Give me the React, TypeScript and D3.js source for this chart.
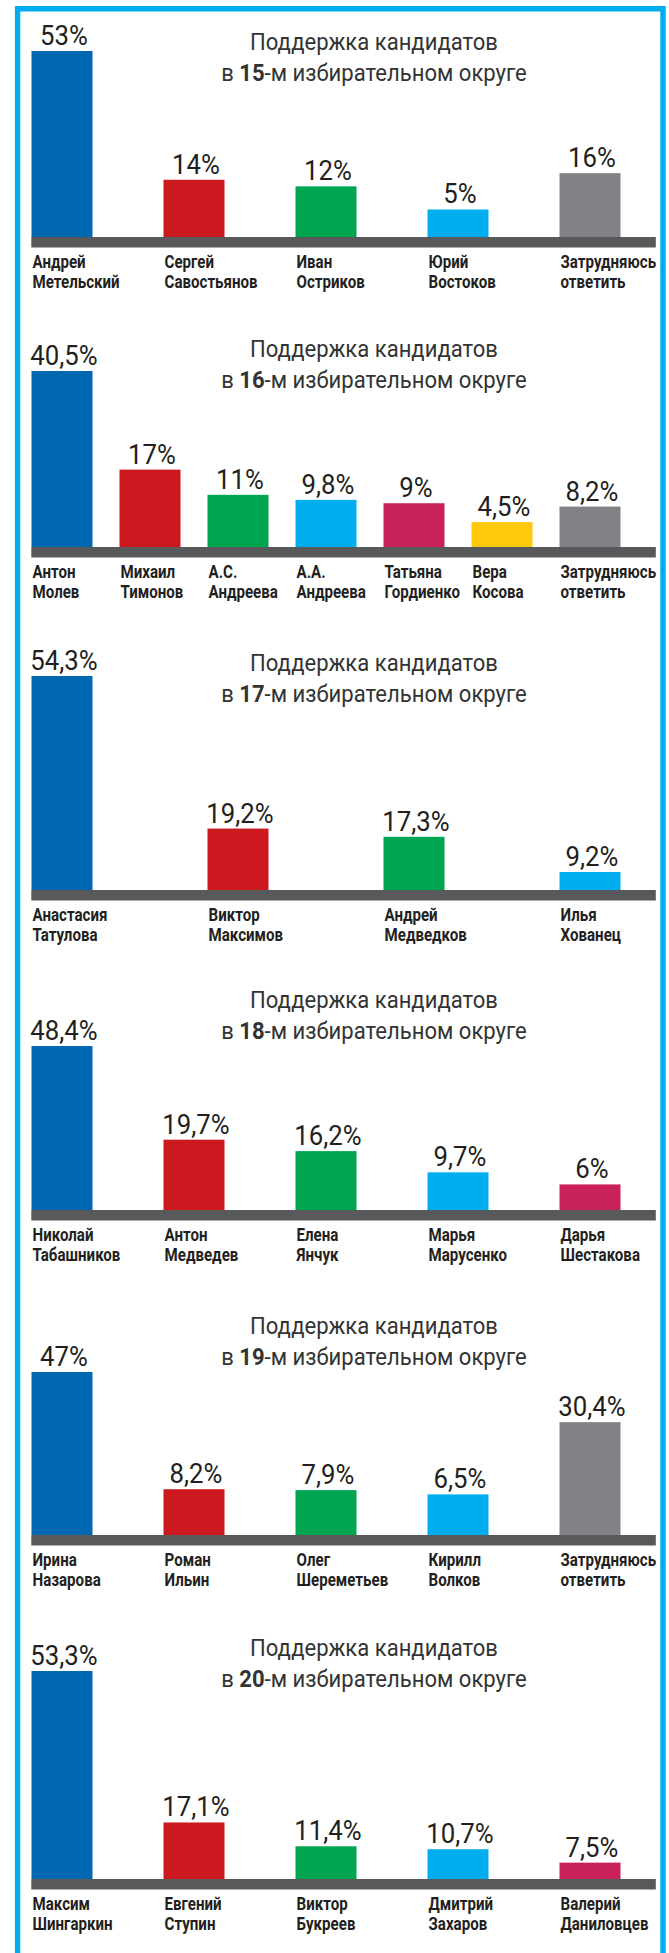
import React from "react";
import * as d3 from "d3";

// district numbers
const districts = ["15", "16", "17", "18", "19", "20"];

// candidates and results, one pair of arrays per district
const names15 = [["Андрей", "Метельский"], ["Сергей", "Савостьянов"], ["Иван", "Остриков"], ["Юрий", "Востоков"], ["Затрудняюсь", "ответить"]];
const values15 = [53, 14, 12, 5, 16];

const names16 = [["Антон", "Молев"], ["Михаил", "Тимонов"], ["А.С.", "Андреева"], ["А.А.", "Андреева"], ["Татьяна", "Гордиенко"], ["Вера", "Косова"], ["Затрудняюсь", "ответить"]];
const values16 = [40.5, 17, 11, 9.8, 9, 4.5, 8.2];

const names17 = [["Анастасия", "Татулова"], ["Виктор", "Максимов"], ["Андрей", "Медведков"], ["Илья", "Хованец"]];
const values17 = [54.3, 19.2, 17.3, 9.2];

const names18 = [["Николай", "Табашников"], ["Антон", "Медведев"], ["Елена", "Янчук"], ["Марья", "Марусенко"], ["Дарья", "Шестакова"]];
const values18 = [48.4, 19.7, 16.2, 9.7, 6];

const names19 = [["Ирина", "Назарова"], ["Роман", "Ильин"], ["Олег", "Шереметьев"], ["Кирилл", "Волков"], ["Затрудняюсь", "ответить"]];
const values19 = [47, 8.2, 7.9, 6.5, 30.4];

const names20 = [["Максим", "Шингаркин"], ["Евгений", "Ступин"], ["Виктор", "Букреев"], ["Дмитрий", "Захаров"], ["Валерий", "Даниловцев"]];
const values20 = [53.3, 17.1, 11.4, 10.7, 7.5];

const BLUE = "#0067b1", RED = "#cc1920", GREEN = "#00a551", CYAN = "#00aeef";
const GRAY = "#818285", MAGENTA = "#c9215c", YELLOW = "#ffc90b";

// layout of each panel: title baseline, axis top, bar heights at 0 and at max
const panels = [
  { names: names15, values: values15, colors: [BLUE, RED, GREEN, CYAN, GRAY], titleY: 50, axisY: 237, h0: 11, hMax: 186 },
  { names: names16, values: values16, colors: [BLUE, RED, GREEN, CYAN, MAGENTA, YELLOW, GRAY], titleY: 357, axisY: 547, h0: 6, hMax: 176 },
  { names: names17, values: values17, colors: [BLUE, RED, GREEN, CYAN], titleY: 671, axisY: 890, h0: -22, hMax: 214 },
  { names: names18, values: values18, colors: [BLUE, RED, GREEN, CYAN, MAGENTA], titleY: 1008, axisY: 1210, h0: 6, hMax: 164 },
  { names: names19, values: values19, colors: [BLUE, RED, GREEN, CYAN, GRAY], titleY: 1334, axisY: 1535, h0: 21, hMax: 163 },
  { names: names20, values: values20, colors: [BLUE, RED, GREEN, CYAN, MAGENTA], titleY: 1656, axisY: 1879, h0: -15, hMax: 208 },
];

const width = 669;
const height = 1953;
const barW = 61;
const font = "Roboto, 'Liberation Sans', sans-serif";

const fmt = (v: number) => String(v).replace(".", ",") + "%";

function Panel({ p, district }: { p: any; district: string }) {
  const x = d3.scalePoint<number>().domain(d3.range(p.values.length)).range([62, 590]);
  const y = d3.scaleLinear()
    .domain([0, d3.max(p.values) as number])
    .range([p.axisY - p.h0, p.axisY - p.hMax]);

  return (
    <g>
      <text transform={`translate(374,${p.titleY}) scale(0.92,1)`} textAnchor="middle"
        fontFamily={font} fontSize={24} fill="#333">Поддержка кандидатов</text>
      <text transform={`translate(374,${p.titleY + 31}) scale(0.92,1)`} textAnchor="middle"
        fontFamily={font} fontSize={24} fill="#333">
        в <tspan fontWeight="bold">{district}</tspan>-м избирательном округе
      </text>

      {p.values.map((v: number, i: number) => (
        <g key={i}>
          <rect x={(x(i) as number) - barW / 2} y={y(v)} width={barW} height={p.axisY - y(v)} fill={p.colors[i]} />
          <text transform={`translate(${(x(i) as number) + 2},${y(v) - 6}) scale(0.92,1)`} textAnchor="middle"
            fontFamily={font} fontSize={28} fill="#231f20">{fmt(v)}</text>
          <text transform={`translate(${(x(i) as number) - barW / 2 + 1},${p.axisY + 31}) scale(0.84,1)`}
            fontFamily={font} fontSize={18} fontWeight="bold" fill="#231f20">
            <tspan x={0} dy={0}>{p.names[i][0]}</tspan>
            <tspan x={0} dy={20}>{p.names[i][1]}</tspan>
          </text>
        </g>
      ))}

      <rect x={31.3} y={p.axisY} width={624.5} height={10.5} fill="#58595b" />
    </g>
  );
}

export default function App() {
  return (
    <svg width={width} height={height} style={{ position: "absolute", left: 0, top: 0, background: "#fff" }}>
      <rect width={width} height={height} fill="#fff" />
      <path d={`M17.6,${height} V8.7 H663 V${height}`} fill="none" stroke={CYAN} strokeWidth={5.4} />
      {panels.map((p, k) => (
        <Panel key={k} p={p} district={districts[k]} />
      ))}
    </svg>
  );
}
